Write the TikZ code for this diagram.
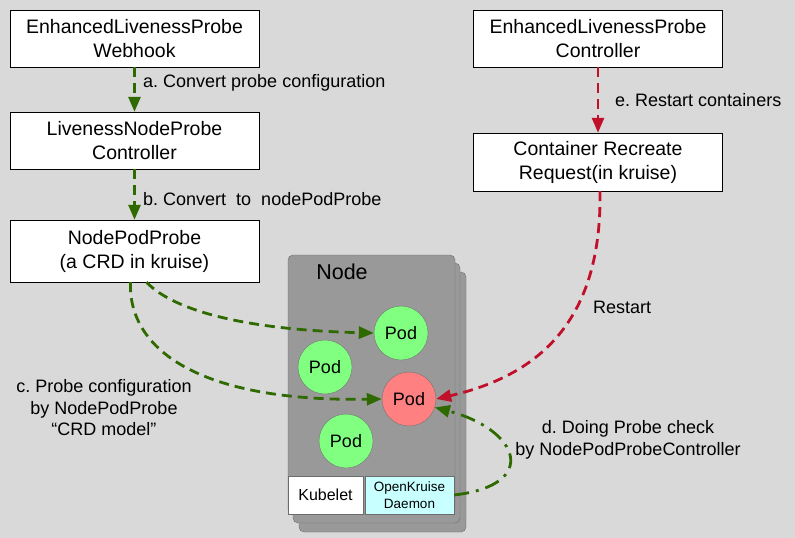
\documentclass[tikz,border=0pt]{standalone}
\usepackage{fontspec}
\setmainfont{Liberation Sans}
\usetikzlibrary{arrows.meta}
\definecolor{bggray}{HTML}{D9D9D9}
\definecolor{lgreen}{HTML}{2E6A00}
\definecolor{lred}{HTML}{C0102A}
\definecolor{podgreen}{HTML}{80FF80}
\definecolor{podred}{HTML}{FF8080}
\definecolor{nodegray}{HTML}{999999}
\definecolor{daemoncyan}{HTML}{C8FFFF}
\frenchspacing
\begin{document}
\begin{tikzpicture}[x = 1pt, y = -1pt,
	box/.style = {draw, fill = white, minimum width = 249pt, minimum height = 57pt, inner sep = 0pt, align = center, font = \fontsize{19.5}{24}\selectfont},
	lbl/.style = {align = center, inner sep = 0pt, font = \fontsize{18}{21.5}\selectfont},
	pod/.style = {circle, draw = gray!90!black, minimum size = 54pt, inner sep = 0pt, font = \fontsize{18}{20}\selectfont},
	card/.style = {draw = gray!85!black, fill = nodegray, rounded corners = 5pt},
	garrow/.style = {lgreen, line width = 2.8pt, dash pattern = on 10pt off 6pt, -{Triangle[length = 15pt, width = 12pt]}},
	rarrow/.style = {lred, line width = 2.8pt, dash pattern = on 10pt off 6pt, -{Triangle[length = 15pt, width = 12pt]}}]
	\fill[bggray] (0,0) rectangle (795,538);
	\useasboundingbox (0,0) rectangle (795,538);
	\node[box] (webhook) at (134.5,38.5) {EnhancedLivenessProbe\\Webhook};
	\node[box] (lnpc) at (134.5,140.5) {LivenessNodeProbe\\Controller};
	\node[box, minimum height = 62pt] (npp) at (134.5,251) {NodePodProbe\\(a CRD in kruise)};
	\node[box] (elpc) at (598,38.5) {EnhancedLivenessProbe\\Controller};
	\node[box, minimum height = 58pt] (crr) at (598,162) {Container Recreate\\Request(in kruise)};
	\draw[card] (299,272) rectangle (466,532);
	\draw[card] (293,263) rectangle (460,523);
	\draw[card] (288,255) rectangle (455,514);
	\node[font = \fontsize{21.5}{24}\selectfont] (nodelbl) at (342,272) {Node};
	\node[pod, fill = podgreen] (pod1) at (401,333) {Pod};
	\node[pod, fill = podgreen] (pod2) at (325,367) {Pod};
	\node[pod, fill = podred] (podr) at (409,399) {Pod};
	\node[pod, fill = podgreen] (pod4) at (346,441) {Pod};
	\node[draw = gray!85!black, fill = white, minimum width = 75pt, minimum height = 38pt, inner sep = 0pt, font = \fontsize{16}{18}\selectfont] (kubelet) at (325.5,495) {Kubelet};
	\node[draw = gray!85!black, fill = daemoncyan, minimum width = 89pt, minimum height = 38pt, inner sep = 0pt, align = center, font = \fontsize{13.5}{17}\selectfont] (daemon) at (409.5,495) {OpenKruise\\Daemon};
	\draw[garrow] (webhook) -- (lnpc);
	\draw[garrow] (lnpc) -- (npp);
	\draw[rarrow] (elpc) -- (crr);
	\draw[garrow] ([xshift = 12pt]npp.south) .. controls (175,312) and (250,330) .. (pod1.west);
	\draw[garrow] ([xshift = -4pt]npp.south) .. controls (128,350) and (200,402) .. (podr.west);
	\draw[rarrow] ([xshift = 2pt]crr.south) .. controls (602,320) and (540,375) .. (podr.east);
	\draw[lgreen, line width = 2.8pt, dash pattern = on 15pt off 7pt on 3pt off 7pt, -{Triangle[length = 15pt, width = 12pt]}] (daemon.east) .. controls (540,485) and (520,430) .. (podr.-18);
	\node[lbl, anchor = west] (alabel) at (143,83) {a. Convert probe configuration};
	\node[lbl, anchor = west] (blabel) at (143,199) {b. Convert~~to~~nodePodProbe};
	\node[lbl, anchor = west] (elabel) at (615,100) {e. Restart containers};
	\node[lbl, anchor = west] (rlabel) at (593,307) {Restart};
	\node[lbl] (clabel) at (104,408) {c. Probe configuration\\by NodePodProbe\\“CRD model”};
	\node[lbl] (dlabel) at (628,440) {d. Doing Probe check\\by NodePodProbeController};
\end{tikzpicture}
\end{document}
